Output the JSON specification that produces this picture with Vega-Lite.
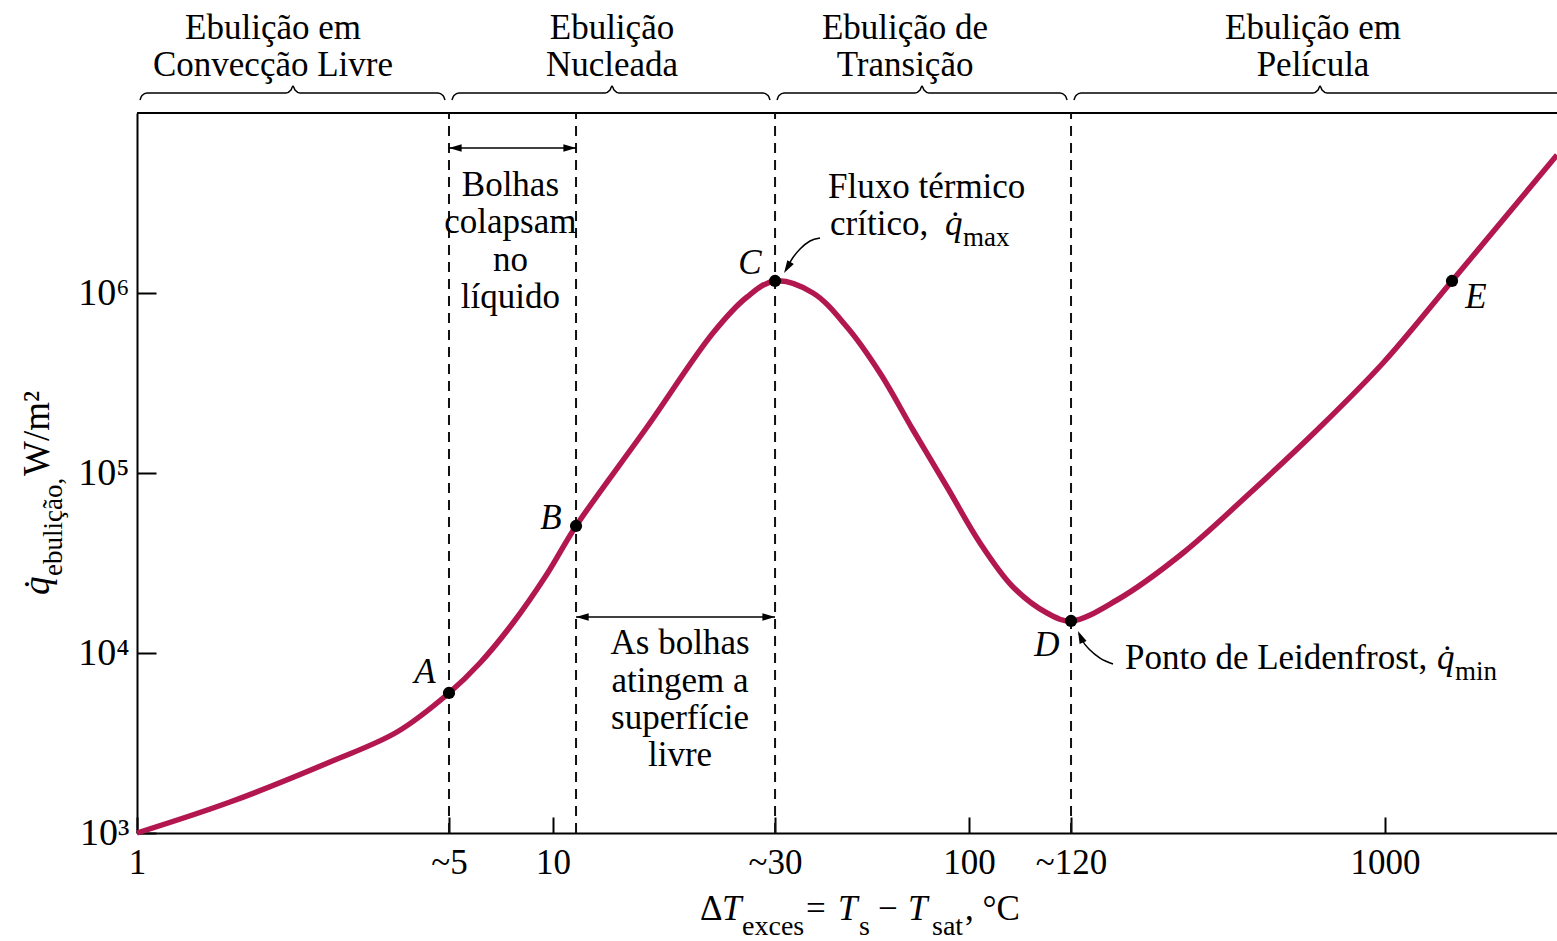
{
  "$schema": "https://vega.github.io/schema/vega-lite/v6.json",
  "width": 1420,
  "height": 720,
  "autosize": {"type": "none"},
  "padding": {"left": 137, "top": 113, "right": 0, "bottom": 108},
  "background": "white",
  "config": {"view": {"stroke": null}, "font": "Liberation Serif", "text": {"font": "Liberation Serif", "color": "black"}},
  "encoding": {
    "x": {"field": "x", "type": "quantitative", "scale": {"type": "log", "domain": [1, 2591], "nice": false},
      "axis": {"values": [1, 5.623, 10, 34.18, 100, 175.9, 1000], "labelExpr": "datum.value < 2 ? '1' : datum.value < 7 ? '~5' : datum.value < 20 ? '10' : datum.value < 50 ? '~30' : datum.value < 150 ? '100' : datum.value < 500 ? '~120' : '1000'",
        "title": null, "grid": false, "domainColor": "black", "domainWidth": 2, "tickColor": "black", "tickWidth": 2, "tickSize": -16, "labelPadding": 28,
        "labelFont": "Liberation Serif", "labelFontSize": 35, "labelColor": "black", "labelOverlap": false, "labelFlush": false, "labelBound": false}},
    "y": {"field": "y", "type": "quantitative", "scale": {"type": "log", "domain": [1000, 10000000], "nice": false},
      "axis": {"values": [1000, 10000, 100000, 1000000], "labelExpr": "'10' + (datum.value < 5000 ? '³' : datum.value < 50000 ? '⁴' : datum.value < 500000 ? '⁵' : '⁶')",
        "title": null, "grid": false, "domainColor": "black", "domainWidth": 2, "tickColor": "black", "tickWidth": 2, "tickSize": -19, "labelPadding": 27,
        "labelFont": "Liberation Serif", "labelFontSize": 38, "labelColor": "black", "labelOverlap": false, "labelFlush": false, "labelBound": false}}
  },
  "layer": [
    {
      "data": {"values": [{"x": 1, "x2": 2591, "y": 10000000}]},
      "mark": {"type": "rule", "color": "black", "strokeWidth": 2},
      "encoding": {"x2": {"field": "x2"}}
    },
    {
      "data": {"values": [
        {"x": 5.623, "y": 1000, "y2": 10000000}, {"x": 11.36, "y": 1000, "y2": 10000000},
        {"x": 34.18, "y": 1000, "y2": 10000000}, {"x": 175.9, "y": 1000, "y2": 10000000}
      ]},
      "mark": {"type": "rule", "color": "#111111", "strokeWidth": 2, "strokeDash": [10, 7]},
      "encoding": {"y2": {"field": "y2"}}
    },
    {
      "data": {"values": [
        {"x": 1, "y": 1000}, {"x": 1.673, "y": 1486}, {"x": 2.91, "y": 2480}, {"x": 4.217, "y": 3640},
        {"x": 5.623, "y": 5995}, {"x": 6.675, "y": 8800}, {"x": 8.013, "y": 14680},
        {"x": 9.674, "y": 27470}, {"x": 11.36, "y": 50780}, {"x": 16.83, "y": 180100},
        {"x": 24.24, "y": 599500}, {"x": 29.27, "y": 950400}, {"x": 34.18, "y": 1166000}, {"x": 42.17, "y": 1000000},
        {"x": 50.89, "y": 647300}, {"x": 61.1, "y": 359400}, {"x": 73.37, "y": 173300}, {"x": 88.55, "y": 83600},
        {"x": 106.3, "y": 40840}, {"x": 127.6, "y": 23260}, {"x": 154.0, "y": 16680}, {"x": 175.9, "y": 15060},
        {"x": 226.9, "y": 19700}, {"x": 326.9, "y": 35940}, {"x": 473.7, "y": 77430},
        {"x": 686.4, "y": 173300}, {"x": 989, "y": 408400}, {"x": 1449, "y": 1166000}, {"x": 2077, "y": 3162000},
        {"x": 2591, "y": 5846000}
      ]},
      "mark": {"type": "line", "color": "#B3174F", "strokeWidth": 5.5, "interpolate": "catmull-rom"}
    },
    {
      "data": {"values": [{"x": 5.623, "y": 5995}, {"x": 11.36, "y": 50780}, {"x": 34.18, "y": 1166000}, {"x": 175.9, "y": 15060}, {"x": 1449, "y": 1166000}]},
      "mark": {"type": "point", "filled": true, "color": "black", "size": 150, "opacity": 1}
    },
    {
      "data": {"values": [
        {"brace": 1, "x": 1.0168, "y": 11810000}, {"brace": 1, "x": 1.0281, "y": 12510000}, {"brace": 1, "x": 1.0569, "y": 12920000},
        {"brace": 1, "x": 2.281, "y": 12920000}, {"brace": 1, "x": 2.345, "y": 13420000}, {"brace": 1, "x": 2.371, "y": 14130000},
        {"brace": 1, "x": 2.398, "y": 13420000}, {"brace": 1, "x": 2.465, "y": 12920000}, {"brace": 1, "x": 5.291, "y": 12920000},
        {"brace": 1, "x": 5.439, "y": 12510000}, {"brace": 1, "x": 5.5, "y": 11810000},
        {"brace": 2, "x": 5.716, "y": 11810000}, {"brace": 2, "x": 5.781, "y": 12510000}, {"brace": 2, "x": 5.943, "y": 12920000},
        {"brace": 2, "x": 13.34, "y": 12920000}, {"brace": 2, "x": 13.71, "y": 13420000}, {"brace": 2, "x": 13.86, "y": 14130000},
        {"brace": 2, "x": 14.02, "y": 13420000}, {"brace": 2, "x": 14.41, "y": 12920000}, {"brace": 2, "x": 31.98, "y": 12920000},
        {"brace": 2, "x": 32.88, "y": 12510000}, {"brace": 2, "x": 33.24, "y": 11810000},
        {"brace": 3, "x": 34.56, "y": 11810000}, {"brace": 3, "x": 34.94, "y": 12510000}, {"brace": 3, "x": 35.93, "y": 12920000},
        {"brace": 3, "x": 74.19, "y": 12920000}, {"brace": 3, "x": 76.27, "y": 13420000}, {"brace": 3, "x": 77.09, "y": 14130000},
        {"brace": 3, "x": 77.95, "y": 13420000}, {"brace": 3, "x": 80.13, "y": 12920000}, {"brace": 3, "x": 165.5, "y": 12920000},
        {"brace": 3, "x": 170.2, "y": 12510000}, {"brace": 3, "x": 172.1, "y": 11810000},
        {"brace": 4, "x": 178.8, "y": 11810000}, {"brace": 4, "x": 180.8, "y": 12510000}, {"brace": 4, "x": 185.9, "y": 12920000},
        {"brace": 4, "x": 671.4, "y": 12920000}, {"brace": 4, "x": 690.2, "y": 13420000}, {"brace": 4, "x": 698.0, "y": 14130000},
        {"brace": 4, "x": 705.8, "y": 13420000}, {"brace": 4, "x": 725.6, "y": 12920000}, {"brace": 4, "x": 3287, "y": 12920000}
      ]},
      "mark": {"type": "line", "color": "black", "strokeWidth": 1.5, "interpolate": "monotone"},
      "encoding": {"detail": {"field": "brace", "type": "nominal"}}
    },
    {
      "data": {"values": [{"x": 5.623, "x2": 11.36, "y": 6391000}, {"x": 11.36, "x2": 34.18, "y": 15849}]},
      "mark": {"type": "rule", "color": "black", "strokeWidth": 1.5},
      "encoding": {"x2": {"field": "x2"}}
    },
    {
      "data": {"values": [
        {"id": "c", "x": 43.84, "y": 2021000}, {"id": "c", "x": 41.48, "y": 1945000}, {"id": "c", "x": 39.25, "y": 1755000},
        {"id": "c", "x": 37.54, "y": 1545000}, {"id": "c", "x": 36.32, "y": 1342000},
        {"id": "d", "x": 221.9, "y": 8688}, {"id": "d", "x": 206.5, "y": 9380}, {"id": "d", "x": 195.4, "y": 10390},
        {"id": "d", "x": 186.9, "y": 11810}, {"id": "d", "x": 183.9, "y": 12750}
      ]},
      "mark": {"type": "line", "color": "black", "strokeWidth": 1.5, "interpolate": "monotone"},
      "encoding": {"detail": {"field": "id", "type": "nominal"}}
    },
    {
      "data": {"values": [{"x": 11.36, "y": 6391000}, {"x": 34.18, "y": 15849}]},
      "mark": {"type": "point", "shape": "M0,0L-2,-0.6L-2,0.6Z", "filled": true, "color": "black", "size": 160, "opacity": 1}
    },
    {
      "data": {"values": [{"x": 5.623, "y": 6391000}, {"x": 11.36, "y": 15849}]},
      "mark": {"type": "point", "shape": "M0,0L2,-0.6L2,0.6Z", "filled": true, "color": "black", "size": 160, "opacity": 1}
    },
    {
      "data": {"values": [{"x": 35.93, "y": 1292000}]},
      "mark": {"type": "point", "shape": "M0,0L-2,-0.6L-2,0.6Z", "filled": true, "color": "black", "size": 160, "opacity": 1, "angle": 121}
    },
    {
      "data": {"values": [{"x": 182.8, "y": 13250}]},
      "mark": {"type": "point", "shape": "M0,0L-2,-0.6L-2,0.6Z", "filled": true, "color": "black", "size": 160, "opacity": 1, "angle": 246}
    },
    {
      "data": {"values": [
        {"label": "Ebulição em", "x": 2.123, "y": 29660000}, {"label": "Convecção Livre", "x": 2.123, "y": 18480000},
        {"label": "Ebulição", "x": 13.86, "y": 29660000}, {"label": "Nucleada", "x": 13.86, "y": 18480000},
        {"label": "Ebulição de", "x": 70.19, "y": 29660000}, {"label": "Transição", "x": 70.19, "y": 18480000},
        {"label": "Ebulição em", "x": 671.4, "y": 29660000}, {"label": "Película", "x": 671.4, "y": 18480000},
        {"label": "Bolhas", "x": 7.9, "y": 3981000}, {"label": "colapsam", "x": 7.9, "y": 2480000},
        {"label": "no", "x": 7.9, "y": 1525000}, {"label": "líquido", "x": 7.9, "y": 950400},
        {"label": "As bolhas", "x": 20.2, "y": 11360}, {"label": "atingem a", "x": 20.2, "y": 6990},
        {"label": "superfície", "x": 20.2, "y": 4354}, {"label": "livre", "x": 20.2, "y": 2713}
      ]},
      "mark": {"type": "text", "font": "Liberation Serif", "fontSize": 35, "align": "center", "baseline": "middle", "color": "black"},
      "encoding": {"text": {"field": "label"}}
    },
    {
      "data": {"values": [
        {"label": "Fluxo térmico", "x": 45.83, "y": 3880000}, {"label": "crítico,", "x": 46.34, "y": 2417000},
        {"label": "Ponto de Leidenfrost,", "x": 237.1, "y": 9380}
      ]},
      "mark": {"type": "text", "font": "Liberation Serif", "fontSize": 35, "align": "left", "baseline": "middle", "color": "black"},
      "encoding": {"text": {"field": "label"}}
    },
    {
      "data": {"values": [{"label": "q\u0307", "x": 87.58, "y": 2417000}, {"label": "q\u0307", "x": 1334, "y": 9380}]},
      "mark": {"type": "text", "font": "Liberation Serif", "fontSize": 35, "fontStyle": "italic", "align": "left", "baseline": "middle", "color": "black"},
      "encoding": {"text": {"field": "label"}}
    },
    {
      "data": {"values": [{"label": "max", "x": 96.74, "y": 2021000}, {"label": "min", "x": 1473, "y": 7844}]},
      "mark": {"type": "text", "font": "Liberation Serif", "fontSize": 27, "align": "left", "baseline": "middle", "color": "black"},
      "encoding": {"text": {"field": "label"}}
    },
    {
      "data": {"values": [
        {"label": "A", "x": 4.924, "y": 7844}, {"label": "B", "x": 9.89, "y": 56234}, {"label": "C", "x": 29.76, "y": 1468000},
        {"label": "D", "x": 154.0, "y": 11080}, {"label": "E", "x": 1655, "y": 950400}
      ]},
      "mark": {"type": "text", "font": "Liberation Serif", "fontSize": 35, "fontStyle": "italic", "align": "center", "baseline": "middle", "color": "black"},
      "encoding": {"text": {"field": "label"}}
    },
    {
      "data": {"values": [
        {"label": "Δ", "x": 22.56, "y": 328.6}, {"label": "=", "x": 40.57, "y": 328.6},
        {"label": "−", "x": 60.43, "y": 328.6}, {"label": ", °C", "x": 97.81, "y": 328.6}
      ]},
      "mark": {"type": "text", "font": "Liberation Serif", "fontSize": 35, "align": "left", "baseline": "alphabetic", "color": "black"},
      "encoding": {"text": {"field": "label"}}
    },
    {
      "data": {"values": [{"label": "T", "x": 25.48, "y": 328.6}, {"label": "T", "x": 48.43, "y": 328.6}, {"label": "T", "x": 71.36, "y": 328.6}]},
      "mark": {"type": "text", "font": "Liberation Serif", "fontSize": 35, "fontStyle": "italic", "align": "left", "baseline": "alphabetic", "color": "black"},
      "encoding": {"text": {"field": "label"}}
    },
    {
      "data": {"values": [{"label": "exces", "x": 28.48, "y": 271.3}, {"label": "s", "x": 54.38, "y": 271.3}, {"label": "sat", "x": 81.49, "y": 271.3}]},
      "mark": {"type": "text", "font": "Liberation Serif", "fontSize": 28, "align": "left", "baseline": "alphabetic", "color": "black"},
      "encoding": {"text": {"field": "label"}}
    },
    {
      "data": {"values": [{"label": "q\u0307", "x": 0.6143, "y": 21000}]},
      "mark": {"type": "text", "font": "Liberation Serif", "fontSize": 37, "fontStyle": "italic", "angle": 270, "align": "left", "baseline": "alphabetic", "color": "black"},
      "encoding": {"text": {"field": "label"}}
    },
    {
      "data": {"values": [{"label": "ebulição,", "x": 0.6602, "y": 26790}]},
      "mark": {"type": "text", "font": "Liberation Serif", "fontSize": 27, "angle": 270, "align": "left", "baseline": "alphabetic", "color": "black"},
      "encoding": {"text": {"field": "label"}}
    },
    {
      "data": {"values": [{"label": "W/m²", "x": 0.6143, "y": 96230}]},
      "mark": {"type": "text", "font": "Liberation Serif", "fontSize": 37, "angle": 270, "align": "left", "baseline": "alphabetic", "color": "black"},
      "encoding": {"text": {"field": "label"}}
    }
  ]
}
